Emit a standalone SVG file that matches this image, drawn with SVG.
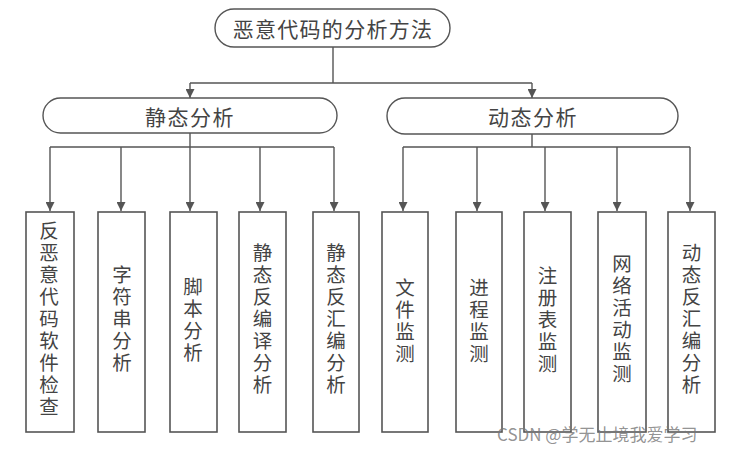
<svg xmlns="http://www.w3.org/2000/svg" width="740" height="453" viewBox="0 0 740 453">
<defs>
<marker id="arr" viewBox="0 0 10 10" refX="10" refY="5" markerWidth="9" markerHeight="9" markerUnits="userSpaceOnUse" orient="auto">
<path d="M0,0 L10,5 L0,10 z" fill="#555"/>
</marker>
<style>
.ln{stroke:#555;stroke-width:1.4;fill:none}
.ar{stroke:#555;stroke-width:1.4;fill:none;marker-end:url(#arr)}
.pill{fill:#fff;stroke:#555;stroke-width:1.4}
.box{fill:#fff;stroke:#555;stroke-width:1.6}
.t{font-family:"Noto Sans CJK SC","Noto Sans",sans-serif;font-size:21px;fill:#444;text-anchor:middle;dominant-baseline:central}
.v{font-family:"Liberation Sans","Noto Sans CJK SC",sans-serif;font-size:19.5px;fill:#444;text-anchor:middle;dominant-baseline:central}
.wm{font-family:"Noto Sans CJK SC","Liberation Sans",sans-serif;font-size:17px;fill:#777;fill-opacity:0.8}
</style>
</defs>
<rect width="740" height="453" fill="#fff"/>
<g id="connectors">
<path class="ln" d="M333,47 V83 M190,83 H532"/>
<path class="ar" d="M190,83 V98"/>
<path class="ar" d="M532,83 V98"/>
<path class="ln" d="M190,133 V147 M50,147 H334"/>
<path class="ar" d="M50,147 V211"/>
<path class="ar" d="M121,147 V211"/>
<path class="ar" d="M190,147 V211"/>
<path class="ar" d="M260,147 V211"/>
<path class="ar" d="M334,147 V211"/>
<path class="ln" d="M532,134 V147 M403,147 H690"/>
<path class="ar" d="M403,147 V211"/>
<path class="ar" d="M477,147 V211"/>
<path class="ar" d="M545,147 V211"/>
<path class="ar" d="M617,147 V211"/>
<path class="ar" d="M690,147 V211"/>
</g>
<g id="root">
<rect class="pill" x="215" y="9" width="235" height="38" rx="19"/>
<text class="t" x="333" y="28" letter-spacing="1.3">恶意代码的分析方法</text>
</g>
<g id="static">
<rect class="pill" x="43" y="98" width="294" height="35" rx="17.5"/>
<text class="t" x="190" y="116" letter-spacing="1.5">静态分析</text>
</g>
<g id="dynamic">
<rect class="pill" x="387" y="98" width="291" height="36" rx="18"/>
<text class="t" x="533" y="116" letter-spacing="1.5">动态分析</text>
</g>
<g id="n1">
<rect class="box" x="26" y="212" width="48" height="220"/>
<text class="v"><tspan x="49" y="231">反</tspan><tspan x="49" y="253">恶</tspan><tspan x="49" y="275">意</tspan><tspan x="49" y="297">代</tspan><tspan x="49" y="319">码</tspan><tspan x="49" y="341">软</tspan><tspan x="49" y="363">件</tspan><tspan x="49" y="385">检</tspan><tspan x="49" y="407">查</tspan></text>
</g>
<g id="n2">
<rect class="box" x="98" y="212" width="47" height="220"/>
<text class="v"><tspan x="122" y="275">字</tspan><tspan x="122" y="297">符</tspan><tspan x="122" y="319">串</tspan><tspan x="122" y="341">分</tspan><tspan x="122" y="363">析</tspan></text>
</g>
<g id="n3">
<rect class="box" x="170" y="212" width="47" height="220"/>
<text class="v"><tspan x="193" y="287">脚</tspan><tspan x="193" y="309">本</tspan><tspan x="193" y="331">分</tspan><tspan x="193" y="353">析</tspan></text>
</g>
<g id="n4">
<rect class="box" x="239" y="212" width="47" height="220"/>
<text class="v"><tspan x="262.5" y="253">静</tspan><tspan x="262.5" y="275">态</tspan><tspan x="262.5" y="297">反</tspan><tspan x="262.5" y="319">编</tspan><tspan x="262.5" y="341">译</tspan><tspan x="262.5" y="363">分</tspan><tspan x="262.5" y="385">析</tspan></text>
</g>
<g id="n5">
<rect class="box" x="313" y="212" width="46" height="220"/>
<text class="v"><tspan x="336" y="253">静</tspan><tspan x="336" y="275">态</tspan><tspan x="336" y="297">反</tspan><tspan x="336" y="319">汇</tspan><tspan x="336" y="341">编</tspan><tspan x="336" y="363">分</tspan><tspan x="336" y="385">析</tspan></text>
</g>
<g id="n6">
<rect class="box" x="382" y="212" width="46" height="220"/>
<text class="v"><tspan x="405" y="288">文</tspan><tspan x="405" y="310">件</tspan><tspan x="405" y="332">监</tspan><tspan x="405" y="354">测</tspan></text>
</g>
<g id="n7">
<rect class="box" x="456" y="212" width="46" height="220"/>
<text class="v"><tspan x="479" y="288">进</tspan><tspan x="479" y="310">程</tspan><tspan x="479" y="332">监</tspan><tspan x="479" y="354">测</tspan></text>
</g>
<g id="n8">
<rect class="box" x="524" y="212" width="47" height="220"/>
<text class="v"><tspan x="547.5" y="276">注</tspan><tspan x="547.5" y="298">册</tspan><tspan x="547.5" y="320">表</tspan><tspan x="547.5" y="342">监</tspan><tspan x="547.5" y="364">测</tspan></text>
</g>
<g id="n9">
<rect class="box" x="598" y="212" width="48" height="220"/>
<text class="v"><tspan x="622" y="264">网</tspan><tspan x="622" y="286">络</tspan><tspan x="622" y="308">活</tspan><tspan x="622" y="330">动</tspan><tspan x="622" y="352">监</tspan><tspan x="622" y="374">测</tspan></text>
</g>
<g id="n10">
<rect class="box" x="668" y="212" width="47" height="220"/>
<text class="v"><tspan x="691.5" y="253">动</tspan><tspan x="691.5" y="275">态</tspan><tspan x="691.5" y="297">反</tspan><tspan x="691.5" y="319">汇</tspan><tspan x="691.5" y="341">编</tspan><tspan x="691.5" y="363">分</tspan><tspan x="691.5" y="385">析</tspan></text>
</g>
<text class="wm" x="497" y="441">CSDN @学无止境我爱学习</text>
</svg>
